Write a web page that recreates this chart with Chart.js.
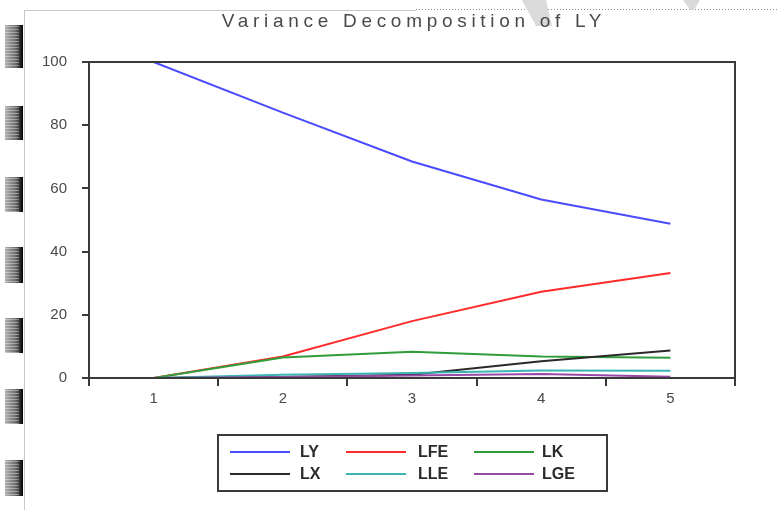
<!DOCTYPE html>
<html>
<head>
<meta charset="utf-8">
<script src="https://cdn.jsdelivr.net/npm/chart.js@4/dist/chart.umd.min.js"></script>
<style>
  html, body { margin: 0; padding: 0; background: #ffffff; }
  #wrap { position: relative; width: 778px; height: 510px; }
  canvas { display: block; }
</style>
</head>
<body>
<div id="wrap"><canvas id="chart" width="778" height="510"></canvas></div>
<script>
// Forecast horizons
const periods = ['1', '2', '3', '4', '5'];

// Share of the forecast-error variance of LY explained by each shock (%)
const lyShare  = [100, 84.0, 68.5, 56.5, 48.8];
const lfeShare = [0, 6.8, 18.0, 27.3, 33.2];
const lkShare  = [0, 6.5, 8.3, 6.8, 6.4];
const lxShare  = [0, 0.3, 1.0, 5.3, 8.7];
const lleShare = [0, 1.0, 1.6, 2.4, 2.3];
const lgeShare = [0, 0.3, 0.8, 1.3, 0.4];

const yTicks = [0, 20, 40, 60, 80, 100];

const chartTitle = 'Variance Decomposition of LY';

const seriesNames  = ['LY', 'LFE', 'LK', 'LX', 'LLE', 'LGE'];
const seriesData   = [lyShare, lfeShare, lkShare, lxShare, lleShare, lgeShare];
const seriesColors = ['#4a4aff', '#ff2a2a', '#2f9e3a', '#2a2a2a', '#3cb4b4', '#9a48a8'];

const FRAME = '#3a3a3a';
const TEXT = '#4a4a4a';

// Title, plot frame, legend box and page decorations
const decorations = {
  id: 'decorations',
  beforeDraw(chart) {
    const ctx = chart.ctx;
    ctx.save();
    ctx.fillStyle = '#ffffff';
    ctx.fillRect(0, 0, chart.width, chart.height);

    // page edges
    ctx.strokeStyle = '#c8c8c8';
    ctx.lineWidth = 1;
    ctx.beginPath();
    ctx.moveTo(24.5, 10); ctx.lineTo(24.5, 510);
    ctx.moveTo(24, 10.5); ctx.lineTo(416, 10.5);
    ctx.stroke();
    ctx.setLineDash([1, 2]);
    ctx.strokeStyle = '#8a8a8a';
    ctx.beginPath();
    ctx.moveTo(416, 9.5); ctx.lineTo(778, 9.5);
    ctx.stroke();
    ctx.setLineDash([]);

    // faint shapes along the top edge
    ctx.fillStyle = '#dadada';
    ctx.beginPath();
    ctx.moveTo(522, 0); ctx.lineTo(546, 0); ctx.lineTo(552, 26); ctx.lineTo(536, 26);
    ctx.closePath(); ctx.fill();
    ctx.beginPath();
    ctx.moveTo(683, 0); ctx.lineTo(700, 0); ctx.lineTo(694, 10); ctx.lineTo(690, 10);
    ctx.closePath(); ctx.fill();

    // binding marks on the left margin
    const marks = [[25, 68], [106, 140], [177, 212], [247, 283], [318, 353], [389, 424], [460, 496]];
    marks.forEach(([y0, y1]) => {
      const g = ctx.createLinearGradient(5, 0, 23, 0);
      g.addColorStop(0, '#b0b0b0');
      g.addColorStop(0.6, '#6a6a6a');
      g.addColorStop(1, '#000000');
      ctx.fillStyle = g;
      ctx.fillRect(5, y0, 18, y1 - y0);
      ctx.fillStyle = 'rgba(255,255,255,0.35)';
      for (let y = y0 + 1; y < y1; y += 3) ctx.fillRect(5, y, 14, 1);
    });
    ctx.restore();
  },
  afterDraw(chart) {
    const ctx = chart.ctx;
    const a = chart.chartArea;
    ctx.save();

    // plot frame
    ctx.strokeStyle = FRAME;
    ctx.lineWidth = 2;
    ctx.strokeRect(a.left, a.top, a.right - a.left, a.bottom - a.top);

    // title
    ctx.fillStyle = TEXT;
    ctx.font = '19px "Liberation Sans", Arial, sans-serif';
    ctx.letterSpacing = '4.7px';
    ctx.textAlign = 'center';
    ctx.textBaseline = 'middle';
    ctx.fillText(chartTitle, (a.left + a.right) / 2 + 2, 22);

    // legend
    ctx.letterSpacing = '0px';
    ctx.lineWidth = 2;
    ctx.strokeStyle = FRAME;
    ctx.strokeRect(218, 435, 389, 56);
    const cols = [[230, 300], [346, 418], [474, 542]];
    const rows = [452, 474];
    ctx.font = 'bold 16px "Liberation Sans", Arial, sans-serif';
    ctx.textAlign = 'left';
    chart.data.datasets.forEach((ds, i) => {
      const [lx, tx] = cols[i % 3];
      const y = rows[Math.floor(i / 3)];
      ctx.strokeStyle = ds.borderColor;
      ctx.lineWidth = 2;
      ctx.beginPath();
      ctx.moveTo(lx, y); ctx.lineTo(lx + 60, y);
      ctx.stroke();
      ctx.fillStyle = '#2a2a2a';
      ctx.fillText(ds.label, tx, y + 1);
    });
    ctx.restore();
  }
};

new Chart(document.getElementById('chart'), {
  type: 'line',
  data: {
    labels: periods,
    datasets: seriesNames.map((name, i) => ({
      label: name,
      data: seriesData[i],
      borderColor: seriesColors[i],
      backgroundColor: seriesColors[i],
      borderWidth: 2,
      pointRadius: 0,
      tension: 0,
      fill: false,
      order: seriesNames.length - i
    }))
  },
  options: {
    responsive: false,
    animation: false,
    layout: { padding: { left: 24, right: 43, top: 62, bottom: 92 } },
    plugins: {
      legend: { display: false },
      title: { display: false },
      tooltip: { enabled: false }
    },
    scales: {
      x: {
        type: 'category',
        offset: true,
        grid: { display: true, offset: true, drawOnChartArea: false, tickLength: 8, color: FRAME, lineWidth: 2 },
        border: { display: true, color: FRAME, width: 2 },
        ticks: { color: TEXT, font: { family: '"Liberation Sans", Arial, sans-serif', size: 15 }, padding: 4, maxRotation: 0 },
        afterFit(scale) { scale.height = 40; }
      },
      y: {
        min: 0,
        max: 100,
        afterBuildTicks(scale) { scale.ticks = yTicks.map(v => ({ value: v })); },
        grid: { display: true, drawOnChartArea: false, tickLength: 7, color: FRAME, lineWidth: 2 },
        border: { display: true, color: FRAME, width: 2 },
        ticks: { color: TEXT, font: { family: '"Liberation Sans", Arial, sans-serif', size: 15 }, padding: 15 },
        afterFit(scale) { scale.width = 65; }
      }
    }
  },
  plugins: [decorations]
});
</script>
</body>
</html>
